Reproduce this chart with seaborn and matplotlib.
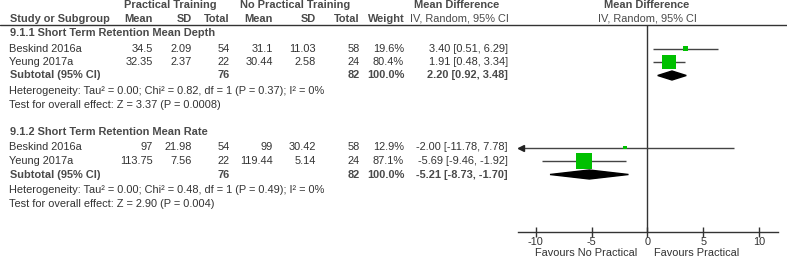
import numpy as np
import pandas as pd
import matplotlib
matplotlib.use('Agg')
import matplotlib.pyplot as plt
import seaborn as sns

# data
groups = ['9.1.1 Short Term Retention Mean Depth', '9.1.2 Short Term Retention Mean Rate']
studies = ['Beskind 2016a', 'Yeung 2017a']
pt_mean = [[34.5, 32.35], [97, 113.75]]
pt_sd = [[2.09, 2.37], [21.98, 7.56]]
pt_n = [[54, 22], [54, 22]]
npt_mean = [[31.1, 30.44], [99, 119.44]]
npt_sd = [[11.03, 2.58], [30.42, 5.14]]
npt_n = [[58, 24], [58, 24]]
weights = [[19.6, 80.4], [12.9, 87.1]]
md = [[3.40, 1.91], [-2.00, -5.69]]
md_lo = [[0.51, 0.48], [-11.78, -9.46]]
md_hi = [[6.29, 3.34], [7.78, -1.92]]
sub_md = [2.20, -5.21]
sub_lo = [0.92, -8.73]
sub_hi = [3.48, -1.70]
tau2 = [0.00, 0.00]
chi2 = [0.82, 0.48]
df_het = [1, 1]
p_het = [0.37, 0.49]
i2 = [0, 0]
z_val = [3.37, 2.90]
p_z = ['0.0008', '0.004']
ticks = [-10, -5, 0, 5, 10]

# layout (pixel rows)
W, H = 787, 257
title_y = [33, 132]
study_y = [[48.5, 62], [147.5, 161]]
sub_y = [75.5, 174.5]
het_y = [91, 190]
test_y = [105, 204]
axis_y, rule_y = 232, 25

body = '#333333'
head = '#4a4a4a'
green = '#00c000'
fs = 7.9

sns.set_theme(style='white')
plt.rcParams['font.family'] = ['Liberation Sans', 'DejaVu Sans']

fig = plt.figure(figsize=(W / 100, H / 100), dpi=100)
ax = fig.add_axes([0, 0, 1, 1])
ax.set_xlim(0, W)
ax.set_ylim(H, 0)
ax.axis('off')


def txt(x, y, s, ha='right', bold=False, color=body):
    ax.text(x, y, s, ha=ha, va='center', fontsize=fs, color=color,
            fontweight='bold' if bold else 'normal')


# header
txt(170, 5, 'Practical Training', ha='center', bold=True, color=head)
txt(295, 5, 'No Practical Training', ha='center', bold=True, color=head)
txt(457, 5, 'Mean Difference', ha='center', bold=True, color=head)
txt(647, 5, 'Mean Difference', ha='center', bold=True, color=head)
txt(10, 18.5, 'Study or Subgroup', ha='left', bold=True, color=head)
for x, s in [(153, 'Mean'), (192, 'SD'), (230, 'Total'), (273, 'Mean'),
             (316, 'SD'), (360, 'Total'), (405, 'Weight')]:
    txt(x, 18.5, s, bold=True, color=head)
txt(459, 18.5, 'IV, Random, 95% CI', ha='center', color=head)
txt(647, 18.5, 'IV, Random, 95% CI', ha='center', color=head)
ax.axhline(rule_y, color='#333333', lw=1)

for g in range(2):
    txt(10, title_y[g], groups[g], ha='left', bold=True, color=head)
    for i in range(2):
        y = study_y[g][i]
        txt(9, y, studies[i], ha='left')
        txt(153, y, f'{pt_mean[g][i]:g}')
        txt(192, y, f'{pt_sd[g][i]:g}')
        txt(230, y, f'{pt_n[g][i]}')
        txt(273, y, f'{npt_mean[g][i]:g}')
        txt(316, y, f'{npt_sd[g][i]:g}')
        txt(360, y, f'{npt_n[g][i]}')
        txt(404, y, f'{weights[g][i]:.1f}%')
        txt(508, y, f'{md[g][i]:.2f} [{md_lo[g][i]:.2f}, {md_hi[g][i]:.2f}]')
    y = sub_y[g]
    txt(10, y, 'Subtotal (95% CI)', ha='left', bold=True, color=head)
    txt(230, y, f'{sum(pt_n[g])}', bold=True, color=head)
    txt(360, y, f'{sum(npt_n[g])}', bold=True, color=head)
    txt(405, y, f'{sum(weights[g]):.1f}%', bold=True, color=head)
    txt(508, y, f'{sub_md[g]:.2f} [{sub_lo[g]:.2f}, {sub_hi[g]:.2f}]', bold=True, color=head)
    txt(9, het_y[g], f'Heterogeneity: Tau\u00b2 = {tau2[g]:.2f}; Chi\u00b2 = {chi2[g]:.2f}, '
        f'df = {df_het[g]} (P = {p_het[g]:.2f}); I\u00b2 = {i2[g]}%', ha='left')
    txt(9, test_y[g], f'Test for overall effect: Z = {z_val[g]:.2f} (P = {p_z[g]})', ha='left')

# forest panel
x0, x1 = -11.6, 11.7
left, right = 518, 778
axf = fig.add_axes([left / W, (H - axis_y) / H, (right - left) / W, (axis_y - rule_y) / H])
axf.set_xlim(x0, x1)
axf.set_ylim(axis_y, rule_y)
axf.patch.set_alpha(0)
for s in ['top', 'left', 'right']:
    axf.spines[s].set_visible(False)
axf.spines['bottom'].set_color('#333333')
axf.spines['bottom'].set_linewidth(1)
axf.set_yticks([])
axf.set_xticks(ticks)
axf.set_xticklabels([f'{t}' for t in ticks])
axf.tick_params(axis='x', direction='inout', length=7, width=1, color='#333333',
                labelsize=fs, labelcolor=body, pad=0, bottom=True)
axf.axvline(0, color='#333333', lw=1)

rows = pd.DataFrame({
    'y': [y for g in range(2) for y in study_y[g]],
    'md': [v for g in md for v in g],
    'lo': [v for g in md_lo for v in g],
    'hi': [v for g in md_hi for v in g],
    'w': [v for g in weights for v in g],
})
for _, r in rows.iterrows():
    lo = max(r['lo'], x0)
    axf.hlines(r['y'], lo, min(r['hi'], x1), color='#444444', lw=1)
    if r['lo'] < x0:
        axf.plot(x0 + 0.25, r['y'], marker='<', color='#222222', ms=4, clip_on=False)

# square side grows with study weight
size_map = {w: (0.11 * w + 1.4) ** 2 for w in rows['w']}
sns.scatterplot(data=rows, x='md', y='y', size='w', sizes=size_map, marker='s',
                color=green, edgecolor='none', legend=False, ax=axf, zorder=3)
axf.set_xlabel('')
axf.set_ylabel('')
axf.set_ylim(axis_y, rule_y)

for g in range(2):
    y = sub_y[g]
    axf.fill([sub_lo[g], sub_md[g], sub_hi[g], sub_md[g]], [y, y - 4.5, y, y + 4.5],
             color='black', zorder=3)

axf.text(-0.9, 252.5, 'Favours No Practical', ha='right', va='center', fontsize=fs,
         color=body, clip_on=False)
axf.text(0.6, 252.5, 'Favours Practical', ha='left', va='center', fontsize=fs,
         color=body, clip_on=False)

fig.savefig('out.png', dpi=100)
